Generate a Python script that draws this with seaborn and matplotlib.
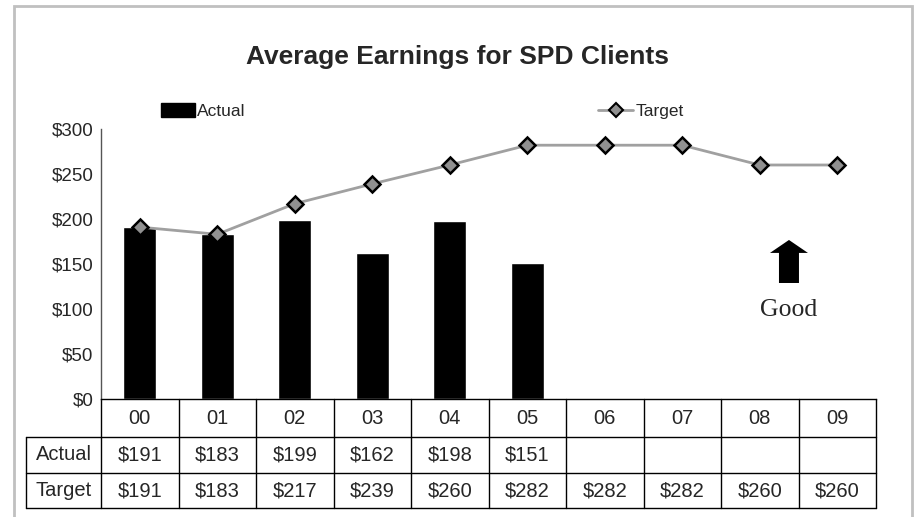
import pandas as pd
import matplotlib.pyplot as plt
import matplotlib.transforms as mtransforms
from matplotlib.patches import Rectangle, Patch, FancyArrow
from matplotlib.lines import Line2D
import seaborn as sns
import numpy as np

years = ['00', '01', '02', '03', '04', '05', '06', '07', '08', '09']
actual = [191, 183, 199, 162, 198, 151]
target = [191, 183, 217, 239, 260, 282, 282, 282, 260, 260]
yticks = [0, 50, 100, 150, 200, 250, 300]

sns.set_style('white')
plt.rcParams['font.family'] = ['Liberation Sans', 'DejaVu Sans']

fig = plt.figure(figsize=(9.15, 5.17), dpi=100)
W, H = 915, 517
ax = fig.add_axes([101 / W, 1 - 399 / H, 775 / W, 270 / H])

df_act = pd.DataFrame({'Year': years[:len(actual)], 'Actual': actual})
sns.barplot(data=df_act, x='Year', y='Actual', order=years, color='black',
            saturation=1, width=0.43, ax=ax)

xpos = np.arange(len(years))
ax.plot(xpos, target, color='#a0a0a0', lw=2, marker='D', markersize=8,
        markerfacecolor='#909090', markeredgecolor='black', markeredgewidth=1.8,
        zorder=5, clip_on=False)

ax.set_xlim(-0.5, len(years) - 0.5)
ax.set_ylim(0, 300)
ax.set_yticks(yticks)
ax.set_yticklabels([f'${v}' for v in yticks], fontsize=13.5)
ax.set_xticks([])
ax.set_xlabel('')
ax.set_ylabel('')
ax.tick_params(axis='y', direction='inout', length=11, width=1, color='#555555', pad=0)
for s in ['top', 'right']:
    ax.spines[s].set_visible(False)
ax.spines['left'].set_color('#555555')
ax.spines['bottom'].set_color('black')
ax.spines['left'].set_linewidth(1)
ax.spines['bottom'].set_linewidth(1)

# data table below the axes
trans = mtransforms.blended_transform_factory(ax.transData, fig.transFigure)
def fy(py):
    return 1 - py / H

fs_tab = 14.5
x_left = -0.5
x_right = len(years) - 0.5
x_table_left = x_left - (101 - 26) / 77.5
for yl in [437, 473, 508]:
    ax.plot([x_table_left, x_right], [fy(yl)] * 2, color='black',
            lw=1, transform=trans, clip_on=False)
ax.plot([x_table_left, x_table_left], [fy(437), fy(508)], color='black', lw=1,
        transform=trans, clip_on=False)
for k in range(len(years) + 1):
    xb = k - 0.5
    ax.plot([xb, xb], [fy(399), fy(508)], color='black', lw=1,
            transform=trans, clip_on=False)

for k, yr in enumerate(years):
    ax.text(k, fy(418), yr, ha='center', va='center', fontsize=fs_tab,
            transform=trans)
    if k < len(actual):
        ax.text(k, fy(455), f'${actual[k]}', ha='center', va='center',
                fontsize=fs_tab, transform=trans)
    ax.text(k, fy(491), f'${target[k]}', ha='center', va='center',
            fontsize=fs_tab, transform=trans)
xm = (x_table_left + x_left) / 2
ax.text(xm, fy(455), 'Actual', ha='center', va='center', fontsize=fs_tab, transform=trans)
ax.text(xm, fy(491), 'Target', ha='center', va='center', fontsize=fs_tab, transform=trans)

# "Good" arrow
ax.add_patch(FancyArrow(8.377, 128.9, 0, 47.8, width=0.258, head_width=0.49,
                        head_length=14.4, length_includes_head=True,
                        color='black', lw=0))
ax.text(8.377, 99, 'Good', ha='center', va='center', fontsize=18.5,
        family=['Liberation Serif', 'DejaVu Serif'])

fig.text(0.5, fy(57), 'Average Earnings for SPD Clients', ha='center', va='center',
         fontsize=19, fontweight='bold')

handles = [Patch(facecolor='black', edgecolor='black', label='Actual'),
           Line2D([0], [0], color='#a0a0a0', lw=2, marker='D', markersize=7,
                  markerfacecolor='#909090', markeredgecolor='black',
                  markeredgewidth=1.5, label='Target')]
fig.legend(handles=handles, loc='center', bbox_to_anchor=(422 / W, fy(111)),
           ncol=2, frameon=False, fontsize=12.5, columnspacing=20.3,
           handlelength=2.0, handleheight=0.9, handletextpad=0.12)

fig.add_artist(Rectangle((14 / W, -0.05), (912 - 14) / W, fy(6) + 0.05,
                         transform=fig.transFigure, fill=False,
                         edgecolor='#c0c0c0', lw=2))

fig.savefig('out.png', dpi=100)
